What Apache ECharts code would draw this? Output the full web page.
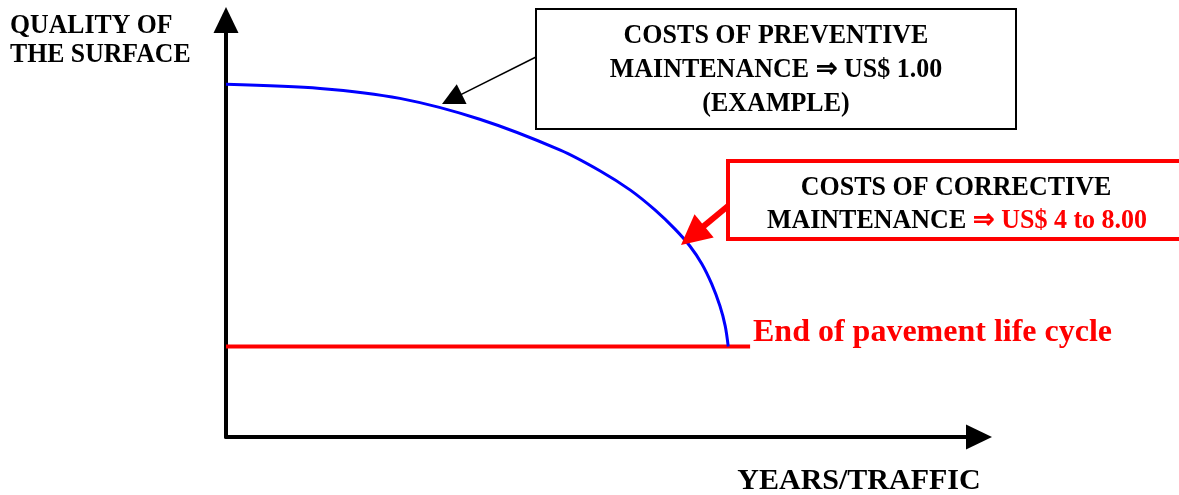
<!DOCTYPE html>
<html>
<head>
<meta charset="utf-8">
<script src="https://cdn.jsdelivr.net/npm/echarts@6/dist/echarts.min.js"></script>
<style>
  html, body { margin: 0; padding: 0; background: #fff; }
  #main { width: 1179px; height: 495px; }
</style>
</head>
<body>
<div id="main"></div>
<script>
// curve of surface quality (axis units 0..100)
var qualityX = [0, 12.5, 23.1, 33.7, 44.4, 49.7, 53.7, 57.0, 59.6, 61.6, 63.2, 64.5, 65.6, 66.3, 66.7];
var qualityY = [84.6, 83.6, 81.2, 76.2, 68.8, 63.8, 59.2, 54.4, 49.9, 45.8, 41.5, 36.7, 31.4, 26.6, 21.7];
// end of life cycle threshold
var lifeEndX = [0, 69.6];
var lifeEndY = [21.7, 21.7];

var FONT = '"Liberation Serif", "Times New Roman", serif';
var BLUE = '#0000ff';
var RED = '#ff0000';

function pairs(xs, ys) {
  return xs.map(function (x, i) { return [x, ys[i]]; });
}

// simple straight arrow: shaft + filled triangle head
function arrow(x1, y1, x2, y2, color, lw, headLen, headW) {
  var dx = x2 - x1, dy = y2 - y1;
  var len = Math.sqrt(dx * dx + dy * dy);
  var ux = dx / len, uy = dy / len;
  var bx = x2 - ux * headLen, by = y2 - uy * headLen;
  var px = -uy * headW / 2, py = ux * headW / 2;
  return [
    { type: 'line', shape: { x1: x1, y1: y1, x2: bx + ux * 2, y2: by + uy * 2 },
      style: { stroke: color, lineWidth: lw }, z: 20 },
    { type: 'polygon', shape: { points: [[x2, y2], [bx + px, by + py], [bx - px, by - py]] },
      style: { fill: color }, z: 20 }
  ];
}

var chart = echarts.init(document.getElementById('main'));

var graphics = [
  // y axis title
  { type: 'text', x: 10, y: 40, z: 30, scaleX: 0.92,
    style: { text: 'QUALITY OF\nTHE SURFACE', font: 'bold 28px ' + FONT, fill: '#000',
      textAlign: 'left', textVerticalAlign: 'middle', lineHeight: 29 } },
  // preventive box
  { type: 'rect', shape: { x: 536, y: 9, width: 480, height: 120 }, z: 15,
    style: { fill: '#fff', stroke: '#000', lineWidth: 2 } },
  { type: 'text', x: 776, y: 70, z: 30, scaleY: 1.05,
    style: { text: 'COSTS OF PREVENTIVE\nMAINTENANCE \u21d2 US$ 1.00\n(EXAMPLE)',
      font: 'bold 26px ' + FONT, fill: '#000', textAlign: 'center',
      textVerticalAlign: 'middle', lineHeight: 32 } },
  // corrective box
  { type: 'rect', shape: { x: 728, y: 161, width: 456, height: 78 }, z: 15,
    style: { fill: '#fff', stroke: RED, lineWidth: 4 } },
  { type: 'text', x: 956, y: 188, z: 30, scaleY: 1.05,
    style: { text: 'COSTS OF CORRECTIVE', font: 'bold 26px ' + FONT, fill: '#000',
      textAlign: 'center', textVerticalAlign: 'middle' } },
  { type: 'text', x: 957, y: 221, z: 30, scaleY: 1.05,
    style: { text: '{k|MAINTENANCE }{r|\u21d2 US$ 4 to 8.00}', font: 'bold 26px ' + FONT,
      textAlign: 'center', textVerticalAlign: 'middle',
      rich: {
        k: { font: 'bold 26px ' + FONT, fill: '#000' },
        r: { font: 'bold 26px ' + FONT, fill: RED }
      } } },
  // end of life label
  { type: 'text', x: 753, y: 333, z: 30,
    style: { text: 'End of pavement life cycle', font: 'bold 32px ' + FONT, fill: RED,
      textAlign: 'left', textVerticalAlign: 'middle' } },
  // x axis title
  { type: 'text', x: 859, y: 481, z: 30,
    style: { text: 'YEARS/TRAFFIC', font: 'bold 30px ' + FONT, fill: '#000',
      textAlign: 'center', textVerticalAlign: 'middle' } }
]
  .concat(arrow(536, 57, 442, 104, '#000', 1.5, 22, 22))
  .concat(arrow(728, 206, 681, 245, RED, 6, 30, 30));

var axisCommon = {
  type: 'value',
  min: 0,
  max: 100,
  axisLine: {
    show: true,
    symbol: ['none', 'triangle'],
    symbolSize: [25, 26],
    lineStyle: { color: '#000', width: 4 }
  },
  axisTick: { show: false },
  axisLabel: { show: false },
  splitLine: { show: false }
};

chart.setOption({
  animation: false,
  backgroundColor: '#fff',
  grid: { left: 226, top: 20, width: 753, height: 417 },
  xAxis: Object.assign({}, axisCommon),
  yAxis: Object.assign({}, axisCommon),
  graphic: graphics,
  series: [
    {
      name: 'Quality',
      type: 'line',
      data: pairs(qualityX, qualityY),
      smooth: 0.3,
      showSymbol: false,
      lineStyle: { color: BLUE, width: 3 },
      z: 5
    },
    {
      name: 'End of life',
      type: 'line',
      data: pairs(lifeEndX, lifeEndY),
      showSymbol: false,
      lineStyle: { color: RED, width: 4 },
      z: 4
    }
  ]
});
</script>
</body>
</html>
